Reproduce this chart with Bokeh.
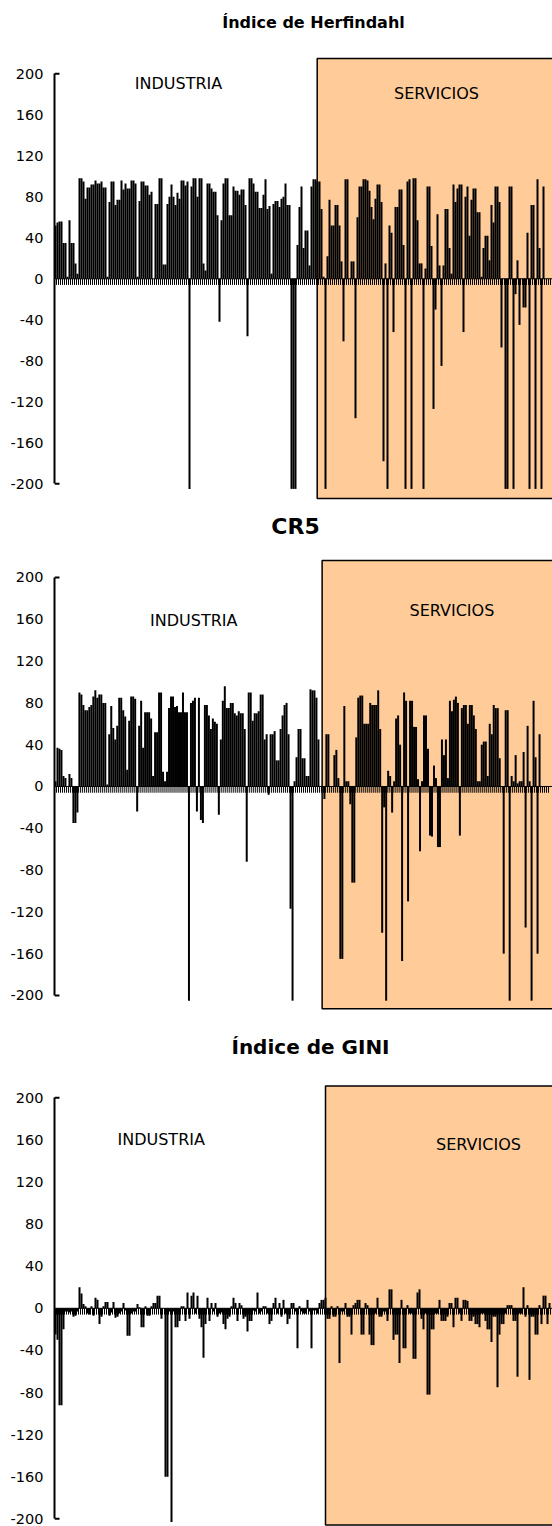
import numpy as np
from bokeh.plotting import figure
from bokeh.layouts import column
from bokeh.models import Range1d, FixedTicker, Span
from bokeh.core.properties import value
from bokeh.embed import file_html
from bokeh.resources import INLINE

# ---------------- data ----------------
herfindahl = [
    52, 55, 56, 56, 35, 35, 2, 57, 35, 35,
    15, 5, 98, 98, 95, 78, 89, 89, 92, 92,
    96, 93, 93, 95, 89, 89, 2, 75, 95, 95,
    72, 77, 77, 96, 87, 93, 88, 88, 96, 96,
    93, 2, 76, 95, 95, 91, 91, 82, 85, 0,
    73, 73, 98, 98, 14, 14, 73, 80, 92, 80,
    72, 84, 78, 96, 96, 91, 95, -205, 90, 98,
    98, 80, 98, 98, 15, 8, 93, 93, 88, 85,
    85, 62, -42, 57, 93, 98, 98, 62, 62, 90,
    86, 86, 82, 87, 87, 72, -56, 98, 98, 93,
    85, 85, 69, 69, 82, 97, 68, 71, 5, 73,
    76, 76, 70, 78, 80, 93, 72, 72, -205, -205,
    -205, 33, 70, 90, 30, 47, 47, 13, 90, 97,
    97, 95, 95, 68, 2, -205, 22, 77, 52, 52,
    72, 72, 52, 17, -61, 97, 97, 0, 17, 17,
    -136, 60, 90, 90, 97, 97, 96, 86, 70, 58,
    78, 92, 92, 75, -178, 15, -205, 52, 45, -52,
    70, 70, 87, 87, 33, -205, 95, 97, -205, 98,
    98, 57, 15, 15, -205, 10, 90, 90, 32, -127,
    -30, 63, 13, -85, 13, 68, 68, 30, 5, 92,
    75, 88, 92, 92, -52, 80, 90, 42, 77, 88,
    88, 65, 65, 2, 30, 42, 42, 18, 72, 55,
    90, 90, 75, -67, 0, -205, -205, 90, 90, -205,
    -15, 18, -45, 0, -28, -28, 45, -205, 72, 72,
    -205, 97, 30, -205, 90, 0, 0, 0,
]

cr5 = [
    5, 37, 36, 35, 10, 8, 0, 12, 8, -35,
    -35, -25, 90, 88, 78, 73, 73, 76, 78, 86,
    92, 85, 88, 88, 80, 80, 2, 50, 77, 56,
    45, 58, 85, 85, 73, 67, 16, 63, 86, 86,
    84, -24, 58, 82, 37, 71, 71, 71, 65, 10,
    52, 52, 90, 90, 14, 5, 14, 75, 86, 86,
    76, 77, 71, 71, 90, 71, 71, -205, 80, 82,
    85, -24, 85, -32, -35, 78, 78, 68, 55, 65,
    62, 60, -27, 45, 82, 96, 75, 75, 80, 80,
    70, 68, 72, 70, 70, 55, -72, 90, 90, 63,
    70, 70, 72, 88, 88, 45, 50, -8, 50, 50,
    53, 25, 25, 55, 68, 78, 80, 50, -117, -205,
    5, 28, 55, 55, 27, 27, 10, 10, 93, 92,
    92, 85, 45, 0, 0, -12, 50, 50, 0, 0,
    30, 35, 8, -165, -165, 77, 5, 5, -17, -92,
    -92, 47, 85, 87, 87, 60, 60, 60, 80, 78,
    78, 78, 92, 55, -140, -20, -205, 15, 10, -25,
    5, 65, 68, 40, -167, 90, 82, -110, 82, 82,
    57, 57, 7, -62, 5, 68, 68, 36, -47, -48,
    20, 8, -58, -58, 45, 30, 45, 8, 82, 72,
    83, 86, 80, -47, 75, 78, 78, 60, 78, 78,
    68, 55, 5, 5, 40, 43, 43, 10, 60, 50,
    78, 75, 75, 27, 0, -160, 73, 73, -205, 10,
    5, 30, 3, 5, 5, 33, -135, 58, 5, -205,
    82, 28, -160, 50, 0, 0, 0, 0,
]

gini = [
    -25, -30, -92, -92, -20, -3, -3, -4, -3, -8,
    -7, -3, 20, 14, 4, 2, -5, -6, 2, -7,
    10, 8, -15, -8, 2, 6, 6, -7, -4, 6,
    -9, -8, -5, -3, 5, -2, -26, -26, -5, -3,
    -3, 4, 1, -18, -18, 2, -7, -7, 2, 5,
    5, 12, 12, -10, 0, -160, -160, -3, -203, -3,
    -18, -18, -12, 2, 2, -12, 15, -10, 12, 15,
    -5, 12, -10, -18, -47, -15, 10, -12, 5, -3,
    5, -8, -5, -4, -15, -20, -10, -8, 2, 10,
    5, -12, 5, 3, -10, -8, -22, -12, -12, -2,
    -3, 15, -5, -3, 2, 2, -5, -15, -12, 5,
    10, -5, 5, -8, 8, -5, -15, -10, 5, 5,
    -3, -38, 2, -3, -5, -5, 8, -3, -38, -2,
    -2, -5, 5, 8, 8, 10, -10, -10, 2, -8,
    -8, 2, -52, -3, -3, 5, -8, -8, -25, 3,
    5, 8, 8, -25, -25, 5, 3, -25, -35, -35,
    -5, 10, -8, -8, -3, -3, -12, 18, 18, -30,
    -25, -25, -52, 8, -38, -38, 3, -5, -5, -48,
    -48, 15, 18, -10, -20, -5, -82, -82, -20, -20,
    -5, -5, 8, -12, -12, -12, -8, 5, 5, -18,
    10, 10, -5, -12, 8, 8, 7, -12, -12, -8,
    -15, -15, -18, -5, -5, -12, -20, -20, -32, -8,
    -8, -75, -25, -15, -15, -5, 3, 3, 3, -12,
    -12, -65, -5, -5, 20, -8, 3, -68, -8, -8,
    -25, -25, 3, -15, 12, 12, -15, 5,
]

y_ticks = [-200, -160, -120, -80, -40, 0, 40, 80, 120, 160, 200]
titles = ["Índice de Herfindahl", "CR5", "Índice de GINI"]
sector_labels = ["INDUSTRIA", "SERVICIOS"]

# ---------------- layout / style ----------------
panels = [
    dict(values=herfindahl, title=titles[0], title_size="16px", height=505,
         left=54, xmax=248.5, yr=(-221.2, 271.5), title_xy=(129, 250),
         ind_xy=(61.5, 191), serv_xy=(190.5, 181),
         box=(130.85, 215, -214.4)),
    dict(values=cr5, title=titles[1], title_size="22px", height=505,
         left=52, xmax=249.5, yr=(-214.4, 268.9), title_xy=(120.5, 248.8),
         ind_xy=(69.4, 159.3), serv_xy=(199, 168.4),
         box=(133.85, 216.3, -212.7)),
    dict(values=gini, title=titles[2], title_size="20px", height=516,
         left=54, xmax=248.5, yr=(-207.3, 282.9), title_xy=(127.5, 248.3),
         ind_xy=(52.85, 159.9), serv_xy=(211.5, 155.2),
         box=(135.0, 211.2, -205.9)),
]

BOX_FILL = "#FFCC99"
COMB = 6
FONT = "DejaVu Sans"

figs = []
for cfg in panels:
    vals = np.array(cfg["values"], dtype=float)
    n = len(vals)
    idx = np.arange(n)
    p = figure(width=552, height=cfg["height"],
               x_range=Range1d(-0.5, cfg["xmax"]),
               y_range=Range1d(*cfg["yr"]),
               x_axis_type=None, toolbar_location=None,
               output_backend="svg",
               min_border_left=cfg["left"], min_border_right=0,
               min_border_top=0, min_border_bottom=0)
    p.outline_line_color = None
    p.grid.visible = False
    p.background_fill_color = "white"
    p.border_fill_color = "white"

    # services shaded box
    bl, bt, bb = cfg["box"]
    p.quad(left=[bl], right=[cfg["xmax"] + 20], top=[bt], bottom=[bb],
           fill_color=BOX_FILL, line_color="black", line_width=1.5)

    # category axis tick comb
    edges = np.arange(n + 1) - 0.5
    p.segment(x0=edges, y0=np.zeros(n + 1), x1=edges, y1=np.full(n + 1, -COMB),
              line_color="black", line_width=1)

    # bars
    p.vbar(x=idx, top=vals, bottom=0, width=1.0,
           fill_color="black", line_color=None)

    p.add_layout(Span(location=0, dimension="width", line_color="black", line_width=1))

    # y axis
    ax = p.yaxis[0]
    ax.ticker = FixedTicker(ticks=y_ticks)
    ax.major_label_overrides = {t: str(t) for t in y_ticks}
    ax.bounds = (y_ticks[0], y_ticks[-1])
    ax.major_tick_in = 0
    ax.major_tick_out = 0
    ax.minor_tick_in = 0
    ax.minor_tick_out = 0
    ax.axis_line_width = 2
    ax.axis_line_color = "black"
    ax.major_label_standoff = 11
    ax.major_label_text_font = FONT
    ax.major_label_text_font_size = "14.5px"
    ax.major_label_text_color = "black"

    # bracket ends at top / bottom of axis
    p.segment(x0=[-0.5, -0.5], x1=[2.0, 2.0], y0=[y_ticks[0], y_ticks[-1]],
              y1=[y_ticks[0], y_ticks[-1]], line_color="black", line_width=2)

    # texts
    tx, ty = cfg["title_xy"]
    p.text(x=[tx], y=[ty], text=[cfg["title"]], text_font=value(FONT),
           text_font_size=cfg["title_size"], text_font_style="bold",
           text_align="center", text_baseline="middle", text_color="black")
    p.text(x=[cfg["ind_xy"][0], cfg["serv_xy"][0]],
           y=[cfg["ind_xy"][1], cfg["serv_xy"][1]],
           text=sector_labels, text_font=value(FONT), text_font_size="16px",
           text_align="center", text_baseline="middle", text_color="black")
    figs.append(p)

layout = column(*figs, spacing=0)
open("out.html", "w").write(file_html(layout, INLINE))
